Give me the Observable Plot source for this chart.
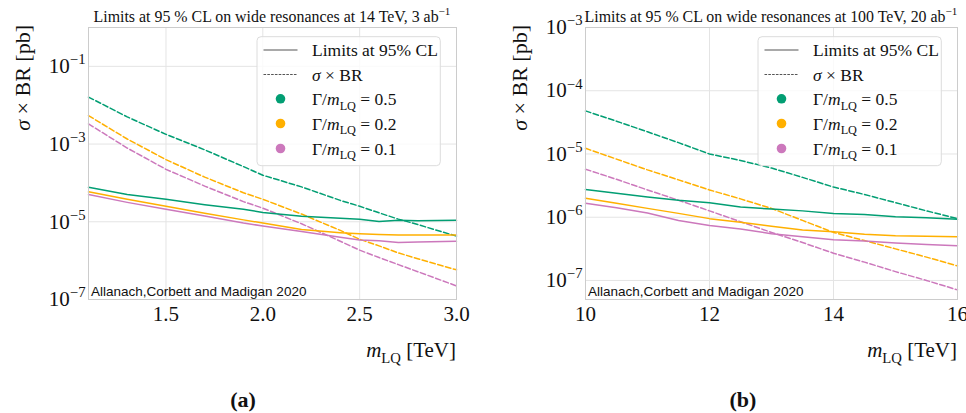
<!DOCTYPE html>
<html>
<head>
<meta charset="utf-8">
<script src="https://cdn.jsdelivr.net/npm/d3@7"></script>
<script src="https://cdn.jsdelivr.net/npm/@observablehq/plot@0.6"></script>
<style>
  body { margin: 0; background: #fff; }
  #wrap { position: relative; width: 966px; height: 413px; overflow: hidden; background: #fff; }
  #wrap svg { position: absolute; top: 0; }
</style>
</head>
<body>
<div id="wrap"></div>
<script>
// ---------- Panel (a): 14 TeV, 3 ab^-1 ----------
const massA = [1.1, 1.3, 1.5, 1.7, 1.9, 2.0, 2.2, 2.4, 2.5, 2.6, 2.7, 2.8, 3.0];
// 95% CL limits (solid)
const limitA_05 = [7.76e-5, 5.01e-5, 3.80e-5, 2.75e-5, 2.09e-5, 1.74e-5, 1.38e-5, 1.23e-5, 1.17e-5, 1.02e-5, 1.10e-5, 1.07e-5, 1.10e-5];
const limitA_02 = [5.89e-5, 3.80e-5, 2.51e-5, 1.66e-5, 1.12e-5, 9.3e-6, 6.3e-6, 5.25e-6, 4.9e-6, 4.68e-6, 4.57e-6, 4.57e-6, 4.57e-6];
const limitA_01 = [5.01e-5, 3.16e-5, 2.09e-5, 1.41e-5, 9.3e-6, 7.8e-6, 5.6e-6, 3.98e-6, 3.39e-6, 3.24e-6, 2.95e-6, 3.02e-6, 3.16e-6];
// sigma x BR (dashed)
const xsecA_05 = [1.62e-2, 5.0e-3, 1.78e-3, 7.1e-4, 2.63e-4, 1.58e-4, 7.9e-5, 3.55e-5, 2.51e-5, 1.70e-5, 1.17e-5, 8.5e-6, 4.27e-6];
const xsecA_02 = [5.4e-3, 1.35e-3, 3.98e-4, 1.41e-4, 5.6e-5, 3.8e-5, 1.58e-5, 6.0e-6, 3.55e-6, 2.4e-6, 1.58e-6, 1.12e-6, 5.8e-7];
const xsecA_01 = [3.3e-3, 7.9e-4, 2.24e-4, 8.3e-5, 3.3e-5, 2.24e-5, 8.9e-6, 3.16e-6, 1.86e-6, 1.2e-6, 7.9e-7, 5.2e-7, 2.24e-7];
const xTicksA = [1.5, 2.0, 2.5, 3.0];
const yTicksA = [1e-1, 1e-3, 1e-5, 1e-7];

// ---------- Panel (b): 100 TeV, 20 ab^-1 ----------
const massB = [10, 10.5, 11, 11.5, 12, 12.5, 13, 13.5, 14, 14.5, 15, 15.5, 16];
const limitB_05 = [2.75e-6, 2.40e-6, 2.09e-6, 1.86e-6, 1.70e-6, 1.45e-6, 1.35e-6, 1.26e-6, 1.15e-6, 1.10e-6, 1.02e-6, 9.8e-7, 9.3e-7];
const limitB_02 = [2.0e-6, 1.66e-6, 1.38e-6, 1.15e-6, 9.5e-7, 8.3e-7, 7.2e-7, 6.3e-7, 5.9e-7, 5.4e-7, 5.1e-7, 5.0e-7, 4.9e-7];
const limitB_01 = [1.66e-6, 1.41e-6, 1.17e-6, 8.9e-7, 7.4e-7, 6.5e-7, 5.5e-7, 4.9e-7, 4.4e-7, 4.2e-7, 3.9e-7, 3.7e-7, 3.55e-7];
const xsecB_05 = [4.8e-5, 3.3e-5, 2.24e-5, 1.51e-5, 1.0e-5, 7.9e-6, 6.0e-6, 4.27e-6, 3.0e-6, 2.29e-6, 1.70e-6, 1.26e-6, 9.5e-7];
const xsecB_02 = [1.23e-5, 8.3e-6, 5.6e-6, 3.9e-6, 2.7e-6, 1.95e-6, 1.38e-6, 8.9e-7, 5.75e-7, 4.27e-7, 3.16e-7, 2.34e-7, 1.7e-7];
const xsecB_01 = [5.75e-6, 3.98e-6, 2.7e-6, 1.86e-6, 1.26e-6, 8.5e-7, 5.75e-7, 3.98e-7, 2.7e-7, 1.95e-7, 1.38e-7, 1.0e-7, 7.1e-8];
const xTicksB = [10, 12, 14, 16];
const yTicksB = [1e-3, 1e-4, 1e-5, 1e-6, 1e-7];

// ---------- Legend / labels ----------
const widthLabels = ["0.5", "0.2", "0.1"];
const colors = ["#029e73", "#ffb000", "#cc78bc"];

const SERIF = "'Liberation Serif', 'DejaVu Serif', serif";
const SANS = "'Liberation Sans', 'DejaVu Sans', sans-serif";

function rich(textSel, parts, size) {
  let cur = 0;
  for (const p of parts) {
    const off = p.sub ? 0.28 * size : p.sup ? -0.42 * size : 0;
    const ts = textSel.append("tspan").text(p.t);
    if (off !== cur) ts.attr("dy", off - cur);
    cur = off;
    if (p.sub || p.sup) ts.attr("font-size", 0.7 * size);
    if (p.it) ts.attr("font-style", "italic");
  }
}

function panel(cfg) {
  const {left, width, mL, mR, mT, xDomain, xTicks, xFmt, yDomain, yTicks, mass, limits, xsecs, title, caption} = cfg;
  const plotBottom = 299;
  const H = 413;
  const mB = H - plotBottom;
  const marks = [
    Plot.ruleX(xTicks, {stroke: "#e4e4e4", strokeWidth: 1}),
    Plot.ruleY(yTicks, {stroke: "#e4e4e4", strokeWidth: 1}),
  ];
  xsecs.forEach((vals, k) => {
    marks.push(Plot.line(vals.map((v, i) => ({m: mass[i], v})), {x: "m", y: "v", stroke: colors[k], strokeWidth: 1.5, strokeDasharray: "5.5,2.6"}));
  });
  limits.forEach((vals, k) => {
    marks.push(Plot.line(vals.map((v, i) => ({m: mass[i], v})), {x: "m", y: "v", stroke: colors[k], strokeWidth: 1.5}));
  });
  marks.push(Plot.frame({stroke: "#cccccc", strokeWidth: 1}));

  const svg = Plot.plot({
    width, height: H,
    marginLeft: mL, marginRight: mR, marginTop: mT, marginBottom: mB,
    style: {fontFamily: SERIF, fontSize: "21px", background: "transparent", overflow: "visible", color: "#111"},
    x: {domain: xDomain, ticks: xTicks, tickSize: 0, tickPadding: 7, label: null, tickFormat: xFmt},
    y: {type: "log", domain: yDomain, ticks: yTicks, tickSize: 0, tickPadding: 3, label: null,
        tickFormat: d => "10^" + Math.round(Math.log10(d))},
    marks
  });
  svg.style.left = left + "px";
  const s = d3.select(svg);

  // superscript tick labels
  s.selectAll("text").each(function () {
    const t = this.textContent;
    if (/^10\^/.test(t)) {
      const e = t.slice(3).replace("-", "\u2212");
      const sel = d3.select(this);
      sel.text(null);
      rich(sel, [{t: "10"}, {t: e, sup: true}], 21);
    }
  });

  const x0 = mL, x1 = width - mR;
  const cx = (x0 + x1) / 2;

  // title
  const tt = s.append("text").attr("x", cx).attr("y", 22).attr("text-anchor", "middle")
    .attr("font-family", SERIF).attr("font-size", 15.9).attr("fill", "#111");
  rich(tt, [{t: title[0]}, {t: title[1], sup: true}], 15.9);

  // y label (top-aligned, rotated)
  const yl = s.append("text").attr("transform", `translate(${cfg.yLabelX},${mT - 2}) rotate(-90)`)
    .attr("text-anchor", "end").attr("font-family", SERIF).attr("font-size", 22).attr("fill", "#111");
  rich(yl, [{t: "\u03c3", it: true}, {t: " \u00d7 BR [pb]"}], 22);

  // x label (right-aligned)
  const xl = s.append("text").attr("x", x1).attr("y", 357).attr("text-anchor", "end")
    .attr("font-family", SERIF).attr("font-size", 21).attr("fill", "#111");
  rich(xl, [{t: "m", it: true}, {t: "LQ", sub: true}, {t: " [TeV]"}], 21);

  // annotation
  s.append("text").attr("x", x0 + 3).attr("y", 296).attr("text-anchor", "start")
    .attr("font-family", SANS).attr("font-size", 13.5)
    .attr("fill", "#111").text("Allanach,Corbett and Madigan 2020");

  // caption
  s.append("text").attr("x", cfg.capX).attr("y", 407).attr("text-anchor", "middle")
    .attr("font-family", SERIF).attr("font-weight", "bold").attr("font-size", 22).attr("fill", "#111").text(caption);

  // legend
  const lw = 183.3, lh = 129;
  const lx = x1 - 15.7 - lw, ly = 36.7;
  const g = s.append("g").attr("text-anchor", "start");
  g.append("rect").attr("x", lx).attr("y", ly).attr("width", lw).attr("height", lh).attr("rx", 4)
    .attr("fill", "#fff").attr("fill-opacity", 0.8).attr("stroke", "#dcdcdc").attr("stroke-width", 1);
  const rowsY = [50, 74.5, 98.8, 123.5, 148.5];
  const sx0 = lx + 6.5, sx1 = lx + 40.5, tx = lx + 55;
  g.append("line").attr("x1", sx0).attr("x2", sx1).attr("y1", rowsY[0]).attr("y2", rowsY[0])
    .attr("stroke", "#555").attr("stroke-width", 1.1);
  g.append("line").attr("x1", sx0).attr("x2", sx1).attr("y1", rowsY[1]).attr("y2", rowsY[1])
    .attr("stroke", "#555").attr("stroke-width", 1.1).attr("stroke-dasharray", "2.6,1.2");
  const fs = 17.5;
  const mk = (yy) => g.append("text").attr("x", tx).attr("y", yy + 6).attr("text-anchor", "start")
    .attr("font-family", SERIF).attr("font-size", fs).attr("fill", "#111");
  rich(mk(rowsY[0]), [{t: "Limits at 95% CL"}], fs);
  rich(mk(rowsY[1]), [{t: "\u03c3", it: true}, {t: " \u00d7 BR"}], fs);
  widthLabels.forEach((w, k) => {
    const yy = rowsY[k + 2];
    g.append("circle").attr("cx", (sx0 + sx1) / 2).attr("cy", yy).attr("r", 4.8).attr("fill", colors[k]);
    rich(mk(yy), [{t: "\u0393/"}, {t: "m", it: true}, {t: "LQ", sub: true}, {t: " = " + w}], fs);
  });

  document.getElementById("wrap").appendChild(svg);
}

panel({
  left: 0, width: 483, mL: 88, mR: 27, mT: 27,
  xDomain: [1.1, 3.0], xTicks: xTicksA, xFmt: d3.format(".1f"),
  yDomain: [1e-7, 1], yTicks: yTicksA,
  mass: massA, limits: [limitA_05, limitA_02, limitA_01], xsecs: [xsecA_05, xsecA_02, xsecA_01],
  title: ["Limits at 95 % CL on wide resonances at 14 TeV, 3 ab", "\u22121"],
  caption: "(a)", capX: 243, yLabelX: 30
});

panel({
  left: 483, width: 483, mL: 102, mR: 9, mT: 27,
  xDomain: [10, 16], xTicks: xTicksB, xFmt: d3.format("d"),
  yDomain: [5e-8, 1e-3], yTicks: yTicksB,
  mass: massB, limits: [limitB_05, limitB_02, limitB_01], xsecs: [xsecB_05, xsecB_02, xsecB_01],
  title: ["Limits at 95 % CL on wide resonances at 100 TeV, 20 ab", "\u22121"],
  caption: "(b)", capX: 260, yLabelX: 44
});
</script>
</body>
</html>
